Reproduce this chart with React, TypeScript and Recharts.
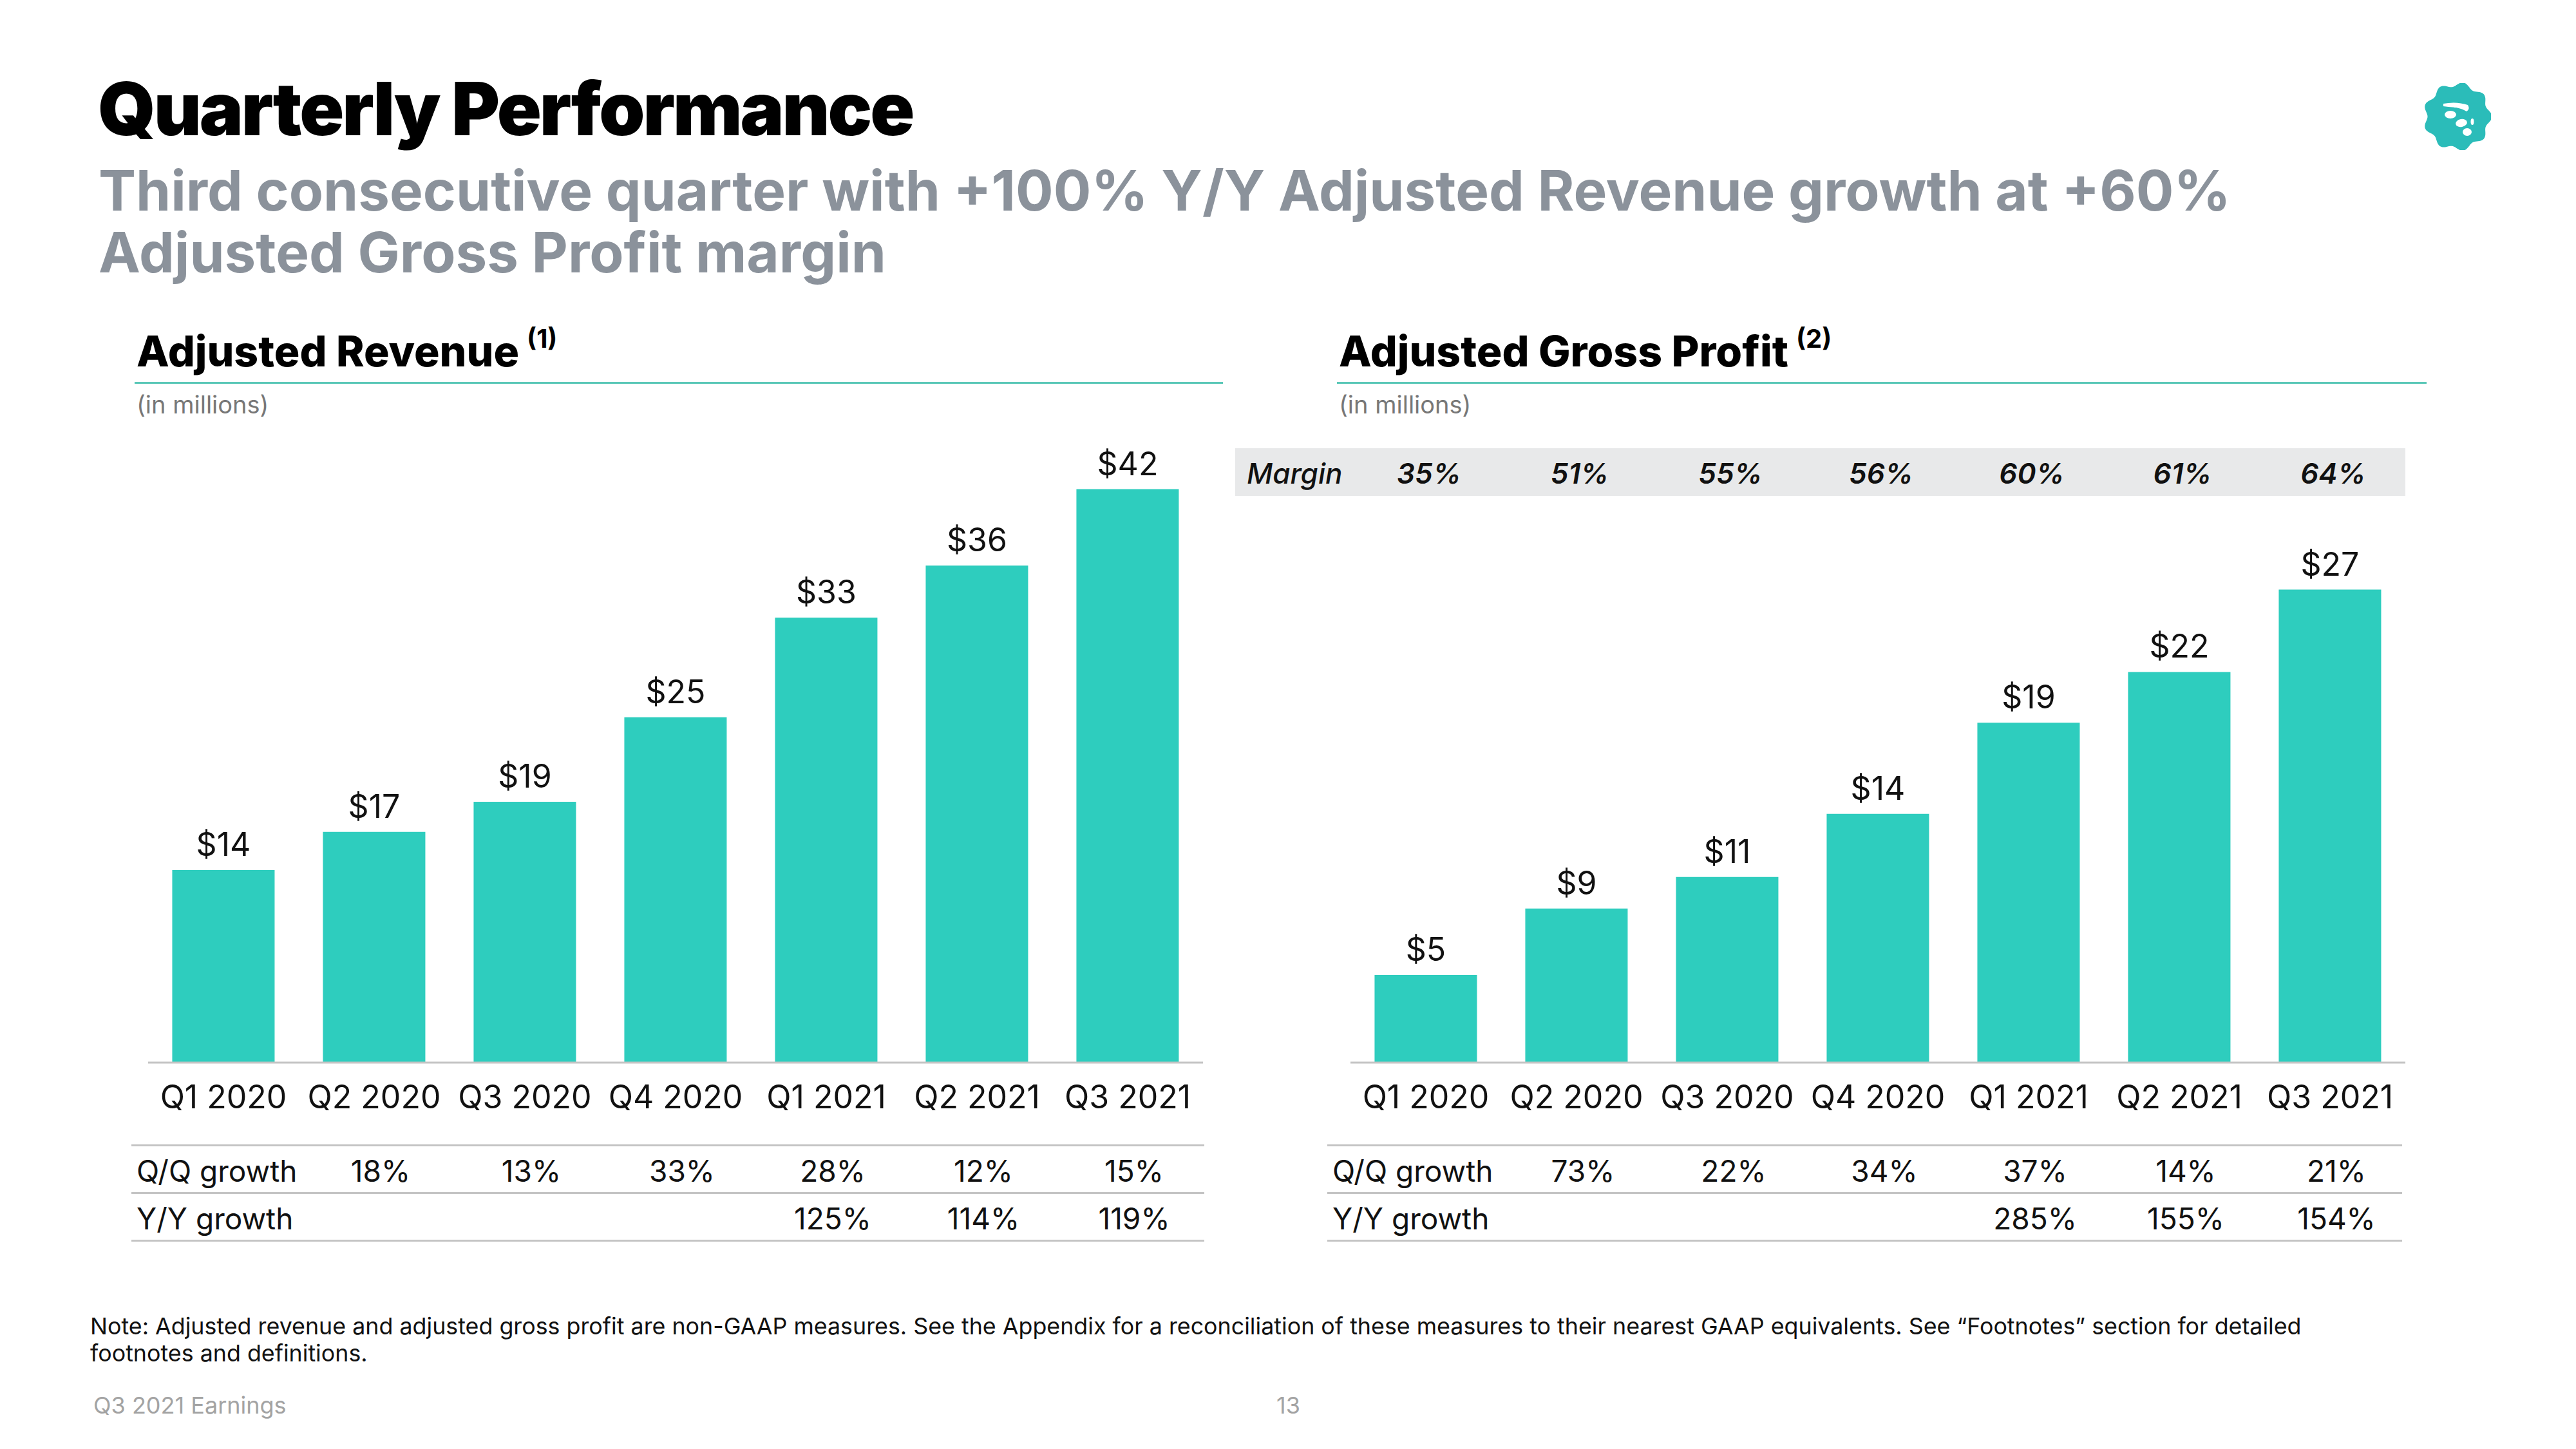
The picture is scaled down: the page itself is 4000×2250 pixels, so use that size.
import React from 'react';
import { BarChart, Bar, XAxis, YAxis, LabelList } from 'recharts';

const quarters = ['Q1 2020', 'Q2 2020', 'Q3 2020', 'Q4 2020', 'Q1 2021', 'Q2 2021', 'Q3 2021'];

const revenue = [14.1, 16.9, 19.1, 25.3, 32.6, 36.4, 42.0];
const revenueQoQ = ['', '18%', '13%', '33%', '28%', '12%', '15%'];
const revenueYoY = ['', '', '', '', '125%', '114%', '119%'];

const grossProfit = [5.0, 8.8, 10.6, 14.2, 19.4, 22.3, 27.0];
const gpMargin = ['35%', '51%', '55%', '56%', '60%', '61%', '64%'];
const gpQoQ = ['', '73%', '22%', '34%', '37%', '14%', '21%'];
const gpYoY = ['', '', '', '', '285%', '155%', '154%'];

const TEAL = '#2ecdbe';
const FONT = 'Inter, "Noto Sans", sans-serif';
const LINE = '#c4c4c4';

const PLOT_W = 1638;
const BAND = PLOT_W / quarters.length;

const money = (v: number) => `$${Math.round(v)}`;

function QuarterChart({ values, left, top, marginTop, yMax }: {
  values: number[]; left: number; top: number; marginTop: number; yMax: number;
}) {
  const data = quarters.map((q, i) => ({ q, v: values[i] }));
  return (
    <div style={{ position: 'absolute', left, top }}>
      <BarChart width={PLOT_W} height={1650 - top + 90} data={data}
        margin={{ top: marginTop, right: 0, bottom: 0, left: 0 }} barCategoryGap="16%">
        <XAxis dataKey="q" height={90} tickLine={false} tickSize={0} tickMargin={35}
          axisLine={{ stroke: LINE, strokeWidth: 3 }} interval={0}
          tick={{ fill: '#111', fontSize: 50, fontFamily: FONT }} />
        <YAxis hide domain={[0, yMax]} />
        <Bar dataKey="v" fill={TEAL} isAnimationActive={false}>
          <LabelList dataKey="v" position="top" offset={22} formatter={(v: any) => money(Number(v))}
            style={{ fill: '#111', fontSize: 50, fontFamily: FONT }} />
        </Bar>
      </BarChart>
    </div>
  );
}

function GrowthTable({ left, width, plotLeft, qoq, yoy }: {
  left: number; width: number; plotLeft: number; qoq: string[]; yoy: string[];
}) {
  const rows = [{ label: 'Q/Q growth', vals: qoq, y: 1778 }, { label: 'Y/Y growth', vals: yoy, y: 1852 }];
  return (
    <>
      {[1778, 1852, 1926].map(y => (
        <div key={y} style={{ position: 'absolute', left, top: y - 1.5, width, height: 3, background: LINE }} />
      ))}
      {rows.map(r => (
        <React.Fragment key={r.label}>
          <div style={{ position: 'absolute', left: left + 8, top: r.y + 8, height: 64, lineHeight: '64px', fontSize: 46, color: '#111' }}>
            {r.label}
          </div>
          {r.vals.map((v, i) => v && (
            <div key={i} style={{ position: 'absolute', left: plotLeft + BAND * (i + 0.5) + 10 - 100, width: 200, textAlign: 'center', top: r.y + 8, height: 64, lineHeight: '64px', fontSize: 46, color: '#111' }}>
              {v}
            </div>
          ))}
        </React.Fragment>
      ))}
    </>
  );
}

function Logo() {
  const n = 9;
  const pts: string[] = [];
  for (let k = 0; k <= 180; k++) {
    const a = (k / 180) * Math.PI * 2;
    const r = 50 + 3.5 * Math.cos(a * n);
    pts.push(`${(52 + r * Math.cos(a)).toFixed(1)},${(52 + r * Math.sin(a)).toFixed(1)}`);
  }
  return (
    <svg width={104} height={104} style={{ position: 'absolute', left: 3764, top: 129 }}>
      <polygon points={pts.join(' ')} fill="#2bbcb9" />
      <path d="M30 32 Q50 28 68 34 Q72 40 66 44 Q60 40 50 38 Q38 37 30 36 Z" fill="#fff" />
      <ellipse cx="41" cy="49" rx="9" ry="6" fill="#fff" />
      <ellipse cx="58" cy="62" rx="9" ry="6" fill="#fff" transform="rotate(-10 58 62)" />
      <ellipse cx="67" cy="76" rx="7" ry="6" fill="#fff" />
      <ellipse cx="75" cy="60" rx="2.5" ry="5" fill="#fff" />
    </svg>
  );
}

export default function App() {
  const header = (x: number, lineW: number, title: string, sup: string) => (
    <>
      <div style={{ position: 'absolute', left: x, top: 505, fontSize: 66, fontWeight: 800, color: '#000', whiteSpace: 'nowrap' }}>
        {title}<sup style={{ fontSize: 40, fontWeight: 700, marginLeft: 12, verticalAlign: 'top', position: 'relative', top: -4 }}>{sup}</sup>
      </div>
      <div style={{ position: 'absolute', left: x - 3, top: 593, width: lineW, height: 3, background: '#5bc8b8' }} />
      <div style={{ position: 'absolute', left: x, top: 605, fontSize: 38, color: '#777' }}>(in millions)</div>
    </>
  );

  return (
    <div style={{ position: 'absolute', left: 0, top: 0, width: 4000, height: 2250, background: '#fff', fontFamily: FONT, overflow: 'hidden' }}>
      <div style={{ position: 'absolute', left: 152, top: 100, fontSize: 114, fontWeight: 900, letterSpacing: -3, color: '#000', whiteSpace: 'nowrap' }}>
        Quarterly Performance
      </div>
      <div style={{ position: 'absolute', left: 153, top: 248, fontSize: 87, fontWeight: 700, lineHeight: '96px', color: '#8b929b', whiteSpace: 'nowrap' }}>
        Third consecutive quarter with +100% Y/Y Adjusted Revenue growth at +60%<br />Adjusted Gross Profit margin
      </div>
      <Logo />

      {header(212, 1690, 'Adjusted Revenue', '(1)')}
      {header(2079, 1692, 'Adjusted Gross Profit', '(2)')}

      <QuarterChart values={revenue} left={230} top={560} marginTop={30} yMax={50} />
      <GrowthTable left={204} width={1666} plotLeft={230} qoq={revenueQoQ} yoy={revenueYoY} />

      <div style={{ position: 'absolute', left: 1918, top: 696, width: 1817, height: 74, background: '#e8e9ea' }} />
      <div style={{ position: 'absolute', left: 1936, top: 698, height: 74, lineHeight: '74px', fontSize: 44, fontStyle: 'italic', fontWeight: 500, color: '#111' }}>Margin</div>
      {gpMargin.map((m, i) => (
        <div key={m + i} style={{ position: 'absolute', left: 2097 + BAND * (i + 0.5) + 5 - 100, width: 200, textAlign: 'center', top: 698, height: 74, lineHeight: '74px', fontSize: 44, fontStyle: 'italic', fontWeight: 600, color: '#111' }}>{m}</div>
      ))}

      <QuarterChart values={grossProfit} left={2097} top={560} marginTop={274} yMax={30} />
      <GrowthTable left={2061} width={1669} plotLeft={2097} qoq={gpQoQ} yoy={gpYoY} />

      <div style={{ position: 'absolute', left: 140, top: 2038, width: 3500, fontSize: 35.8, lineHeight: '42px', color: '#111' }}>
        Note: Adjusted revenue and adjusted gross profit are non-GAAP measures. See the Appendix for a reconciliation of these measures to their nearest GAAP equivalents. See “Footnotes” section for detailed footnotes and definitions.
      </div>
      <div style={{ position: 'absolute', left: 145, top: 2160, fontSize: 36, color: '#a3a3a3' }}>Q3 2021 Earnings</div>
      <div style={{ position: 'absolute', left: 1982, top: 2160, fontSize: 36, color: '#a3a3a3' }}>13</div>
    </div>
  );
}
